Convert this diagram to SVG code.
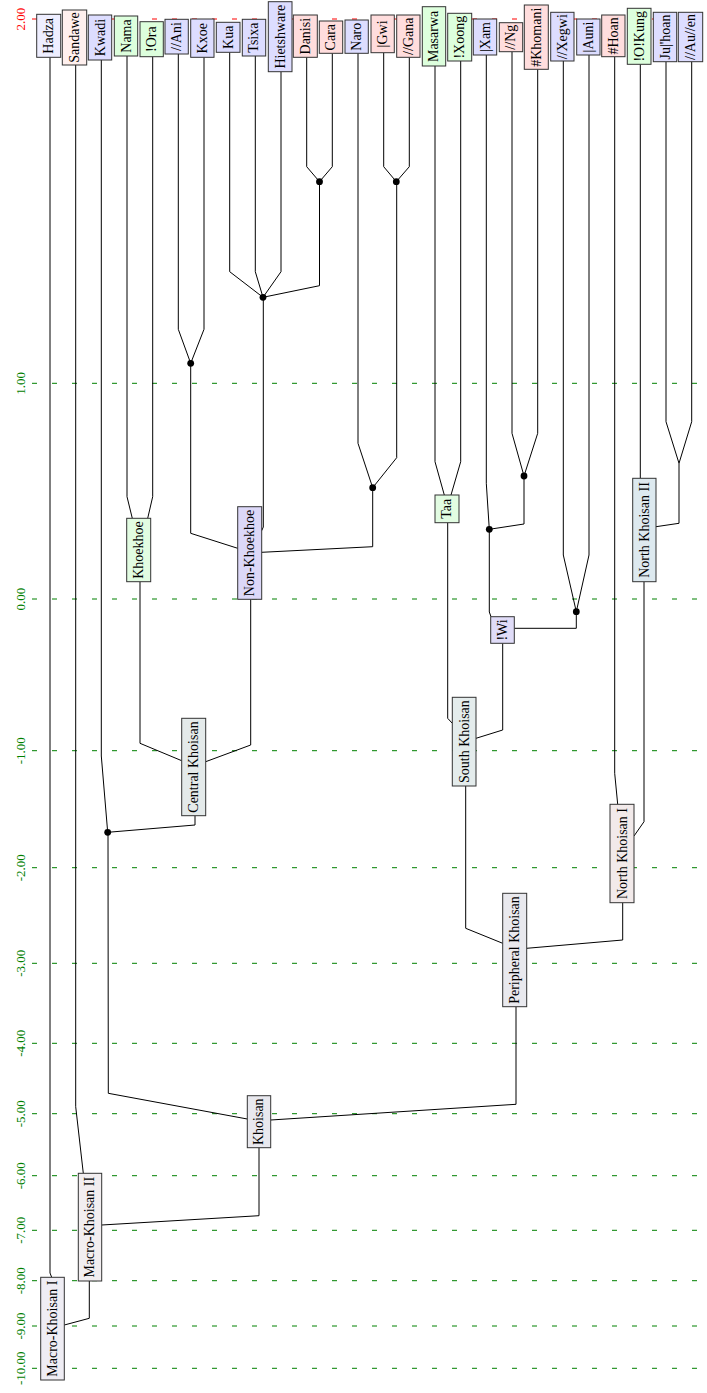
<svg xmlns="http://www.w3.org/2000/svg" width="707" height="1393" viewBox="0 0 707 1393">
<style>
.grid{stroke:#008000;stroke-width:1;stroke-dasharray:5 15;fill:none}
.gridr{stroke:#ff0000;stroke-width:1;stroke-dasharray:5 15;fill:none}
.ax{font-family:"Liberation Serif",serif;font-size:13px;fill:#008000;text-anchor:middle;dominant-baseline:central}
.axr{font-family:"Liberation Serif",serif;font-size:13px;fill:#ff0000;text-anchor:middle;dominant-baseline:central}
.c{stroke:#000;stroke-width:1;fill:none}
.dot{fill:#000}
.n rect{stroke:#333;stroke-width:1}
.t{font-family:"Liberation Serif",serif;font-size:14px;fill:#000;text-anchor:middle;dominant-baseline:central}
.L{fill:#ddddff}.G{fill:#ddffdd}.P{fill:#ffdddd}
</style>
<g id="grid">
<line class="gridr" x1="32" y1="19" x2="707" y2="19"/><text class="axr" x="20.5" y="19" transform="rotate(-90 20.5 19)">2.00</text>
<line class="grid" x1="32" y1="383.3" x2="707" y2="383.3"/><text class="ax" x="20.5" y="383.3" transform="rotate(-90 20.5 383.3)">1.00</text>
<line class="grid" x1="32" y1="599" x2="707" y2="599"/><text class="ax" x="20.5" y="599" transform="rotate(-90 20.5 599)">0.00</text>
<line class="grid" x1="32" y1="750.7" x2="707" y2="750.7"/><text class="ax" x="20.5" y="750.7" transform="rotate(-90 20.5 750.7)">-1.00</text>
<line class="grid" x1="32" y1="867.7" x2="707" y2="867.7"/><text class="ax" x="20.5" y="867.7" transform="rotate(-90 20.5 867.7)">-2.00</text>
<line class="grid" x1="32" y1="963.3" x2="707" y2="963.3"/><text class="ax" x="20.5" y="963.3" transform="rotate(-90 20.5 963.3)">-3.00</text>
<line class="grid" x1="32" y1="1043.3" x2="707" y2="1043.3"/><text class="ax" x="20.5" y="1043.3" transform="rotate(-90 20.5 1043.3)">-4.00</text>
<line class="grid" x1="32" y1="1113.7" x2="707" y2="1113.7"/><text class="ax" x="20.5" y="1113.7" transform="rotate(-90 20.5 1113.7)">-5.00</text>
<line class="grid" x1="32" y1="1175.7" x2="707" y2="1175.7"/><text class="ax" x="20.5" y="1175.7" transform="rotate(-90 20.5 1175.7)">-6.00</text>
<line class="grid" x1="32" y1="1230.3" x2="707" y2="1230.3"/><text class="ax" x="20.5" y="1230.3" transform="rotate(-90 20.5 1230.3)">-7.00</text>
<line class="grid" x1="32" y1="1280.7" x2="707" y2="1280.7"/><text class="ax" x="20.5" y="1280.7" transform="rotate(-90 20.5 1280.7)">-8.00</text>
<line class="grid" x1="32" y1="1326" x2="707" y2="1326"/><text class="ax" x="20.5" y="1326" transform="rotate(-90 20.5 1326)">-9.00</text>
<line class="grid" x1="32" y1="1368.3" x2="707" y2="1368.3"/><text class="ax" x="20.5" y="1368.3" transform="rotate(-90 20.5 1368.3)">-10.00</text>
</g>
<g id="connectors">
<polyline class="c" points="50,57.3 50,1273 51.7,1277.3"/>
<polyline class="c" points="75.7,65 75.7,1106.7 83.3,1173.3"/>
<polyline class="c" points="101.3,60 101.3,756 107.7,832.3"/>
<polyline class="c" points="127,56 127,496.7 132.3,518.3"/>
<polyline class="c" points="152.7,56.7 152.7,496.7 147.7,518.3"/>
<polyline class="c" points="178.3,54 178.3,329.3 190.7,363.3"/>
<polyline class="c" points="204,57.3 204,329.3 190.7,363.3"/>
<polyline class="c" points="229.7,52.3 229.7,271.7 263,297.3"/>
<polyline class="c" points="255.3,56 255.3,271.7 263,297.3"/>
<polyline class="c" points="281,71.7 281,271.7 263,297.3"/>
<polyline class="c" points="306.7,57.3 306.7,166.7 319.5,181.7"/>
<polyline class="c" points="332.3,53.3 332.3,166.7 319.5,181.7"/>
<polyline class="c" points="319.5,181.7 319.5,285.7 263,297.3"/>
<polyline class="c" points="263.3,297.3 263.3,527 261.7,530.7"/>
<polyline class="c" points="190.7,363.3 190.7,533.3 237.7,548.3"/>
<polyline class="c" points="358,53.3 358,443.3 372.7,487.7"/>
<polyline class="c" points="383.7,52.7 383.7,166.7 396.3,181.7"/>
<polyline class="c" points="409.3,57.3 409.3,166.7 396.3,181.7"/>
<polyline class="c" points="396.7,181.7 396.7,457.7 372.7,487.7"/>
<polyline class="c" points="372.7,487.7 372.7,546.7 261.7,552.3"/>
<polyline class="c" points="140,581.7 140,743.3 181.7,760.7"/>
<polyline class="c" points="250.7,599.3 250.7,745 205.7,761.7"/>
<polyline class="c" points="195,815.7 195,825 107.7,832.3"/>
<polyline class="c" points="108,832.3 108.3,1093.3 247.3,1119"/>
<polyline class="c" points="435,66 435,461.7 444.3,495"/>
<polyline class="c" points="460.7,61 460.7,461.7 451,495"/>
<polyline class="c" points="486.3,55 486.3,483.3 489.3,529.3"/>
<polyline class="c" points="512,51.7 512,433.3 524,476"/>
<polyline class="c" points="537.7,69.3 537.7,433.3 524,476"/>
<polyline class="c" points="524,476 524,524 489.3,529.3"/>
<polyline class="c" points="489.3,529.3 489.3,612 491,616.7"/>
<polyline class="c" points="563.3,61 563.3,555 576.3,611.7"/>
<polyline class="c" points="589,55 589,555 576.3,611.7"/>
<polyline class="c" points="576.3,611.7 576.3,628.3 514.3,628.3"/>
<polyline class="c" points="447.7,522.7 447.7,718.3 452.3,723.3"/>
<polyline class="c" points="502.7,643.3 502.7,730 476,738.3"/>
<polyline class="c" points="614.7,56.7 614.7,773.3 617.7,804.3"/>
<polyline class="c" points="640.3,64.3 640.3,478.3"/>
<polyline class="c" points="666,61.7 666,421.7 679,463.3"/>
<polyline class="c" points="691.7,61.7 691.7,421.7 679,463.3"/>
<polyline class="c" points="679,463.3 679,523.3 656,526.7"/>
<polyline class="c" points="644,581.7 644,821.7 634,836"/>
<polyline class="c" points="465.7,786 465.7,928.3 502.7,943.3"/>
<polyline class="c" points="622.7,902.7 622.7,940 526.7,948.3"/>
<polyline class="c" points="516,1006.7 516,1104.3 270.7,1120"/>
<polyline class="c" points="259,1147.7 259,1215.7 101.7,1225"/>
<polyline class="c" points="89.3,1281 89.3,1318.3 64.3,1325"/>
<circle class="dot" cx="190.7" cy="363.3" r="3.4"/>
<circle class="dot" cx="263" cy="297.3" r="3.4"/>
<circle class="dot" cx="319.5" cy="181.7" r="3.4"/>
<circle class="dot" cx="396.3" cy="181.7" r="3.4"/>
<circle class="dot" cx="372.7" cy="487.7" r="3.4"/>
<circle class="dot" cx="107.7" cy="832.3" r="3.4"/>
<circle class="dot" cx="524" cy="476" r="3.4"/>
<circle class="dot" cx="489.3" cy="529.3" r="3.4"/>
<circle class="dot" cx="576.3" cy="611.7" r="3.4"/>
</g>
<g id="hadza" class="n"><rect x="36.7" y="14.3" width="24" height="43" fill="#eeeeff"/><text class="t" x="48.7" y="35.8" transform="rotate(-90 48.7 35.8)">Hadza</text></g>
<g id="sandawe" class="n"><rect x="62.3" y="10" width="24.4" height="55" fill="#fff0ee"/><text class="t" x="74.5" y="37.5" transform="rotate(-90 74.5 37.5)">Sandawe</text></g>
<g id="kwadi" class="n"><rect class="L" x="88.3" y="15" width="23.4" height="45"/><text class="t" x="100" y="37.5" transform="rotate(-90 100 37.5)">Kwadi</text></g>
<g id="nama" class="n"><rect class="G" x="114.3" y="16" width="23.4" height="40"/><text class="t" x="126" y="36" transform="rotate(-90 126 36)">Nama</text></g>
<g id="ora" class="n"><rect class="G" x="140" y="21.7" width="23.3" height="35"/><text class="t" x="151.6" y="39.2" transform="rotate(-90 151.6 39.2)">!Ora</text></g>
<g id="ani" class="n"><rect class="L" x="165" y="19.3" width="23.3" height="34.7"/><text class="t" x="176.6" y="36.6" transform="rotate(-90 176.6 36.6)">//Ani</text></g>
<g id="kxoe" class="n"><rect class="L" x="190.7" y="19" width="23.3" height="38.3"/><text class="t" x="202.3" y="38.2" transform="rotate(-90 202.3 38.2)">Kxoe</text></g>
<g id="kua" class="n"><rect class="L" x="216.3" y="22.3" width="23.7" height="30"/><text class="t" x="228.1" y="37.3" transform="rotate(-90 228.1 37.3)">Kua</text></g>
<g id="tsixa" class="n"><rect class="L" x="242.3" y="19.3" width="23.4" height="36.7"/><text class="t" x="254" y="37.6" transform="rotate(-90 254 37.6)">Tsixa</text></g>
<g id="hietshware" class="n"><rect class="L" x="268.3" y="1.7" width="23.7" height="70"/><text class="t" x="280.1" y="36.7" transform="rotate(-90 280.1 36.7)">Hietshware</text></g>
<g id="danisi" class="n"><rect class="P" x="293.3" y="15" width="24" height="42.3"/><text class="t" x="305.3" y="36.2" transform="rotate(-90 305.3 36.2)">Danisi</text></g>
<g id="cara" class="n"><rect class="P" x="319.3" y="21" width="23.4" height="32.3"/><text class="t" x="331" y="37.2" transform="rotate(-90 331 37.2)">Cara</text></g>
<g id="naro" class="n"><rect class="L" x="345" y="20" width="23.3" height="33.3"/><text class="t" x="356.6" y="36.7" transform="rotate(-90 356.6 36.7)">Naro</text></g>
<g id="gwi" class="n"><rect class="P" x="371" y="15" width="23.3" height="37.7"/><text class="t" x="382.6" y="33.9" transform="rotate(-90 382.6 33.9)">|Gwi</text></g>
<g id="gana" class="n"><rect class="P" x="396.7" y="15" width="23.3" height="42.3"/><text class="t" x="408.3" y="36.2" transform="rotate(-90 408.3 36.2)">//Gana</text></g>
<g id="masarwa" class="n"><rect class="G" x="422.3" y="6.7" width="23.4" height="59.3"/><text class="t" x="434" y="36.4" transform="rotate(-90 434 36.4)">Masarwa</text></g>
<g id="xoong" class="n"><rect class="G" x="447.7" y="13.3" width="24" height="47.7"/><text class="t" x="459.7" y="37.2" transform="rotate(-90 459.7 37.2)">!Xoong</text></g>
<g id="xam" class="n"><rect class="L" x="473.3" y="19" width="23.4" height="36"/><text class="t" x="485" y="37" transform="rotate(-90 485 37)">|Xam</text></g>
<g id="ng" class="n"><rect class="P" x="499.3" y="22.7" width="23.4" height="29"/><text class="t" x="511" y="37.2" transform="rotate(-90 511 37.2)">//Ng</text></g>
<g id="khomani" class="n"><rect class="P" x="524.3" y="5" width="24" height="64.3"/><text class="t" x="536.3" y="37.2" transform="rotate(-90 536.3 37.2)">#Khomani</text></g>
<g id="xegwi" class="n"><rect class="L" x="550.7" y="12.3" width="23.3" height="48.7"/><text class="t" x="562.3" y="36.7" transform="rotate(-90 562.3 36.7)">//Xegwi</text></g>
<g id="auni" class="n"><rect class="L" x="576.7" y="19" width="23.3" height="36"/><text class="t" x="588.3" y="37" transform="rotate(-90 588.3 37)">|Auni</text></g>
<g id="hoan" class="n"><rect class="P" x="601.7" y="15" width="23.3" height="41.7"/><text class="t" x="613.3" y="35.9" transform="rotate(-90 613.3 35.9)">#Hoan</text></g>
<g id="okung" class="n"><rect class="G" x="627.3" y="8.3" width="23.7" height="56"/><text class="t" x="639.1" y="36.3" transform="rotate(-90 639.1 36.3)">!O!Kung</text></g>
<g id="juhoan" class="n"><rect class="L" x="653.3" y="12.3" width="23.4" height="49.4"/><text class="t" x="665" y="37" transform="rotate(-90 665 37)">Ju|'hoan</text></g>
<g id="auen" class="n"><rect class="L" x="678.3" y="12.3" width="24.4" height="49.4"/><text class="t" x="690.5" y="37" transform="rotate(-90 690.5 37)">//Au//en</text></g>
<g id="khoekhoe" class="n"><rect x="126.7" y="518.3" width="24" height="63.4" fill="#e2fce2"/><text class="t" x="138.7" y="550" transform="rotate(-90 138.7 550)">Khoekhoe</text></g>
<g id="nonkhoekhoe" class="n"><rect x="237.7" y="506.7" width="24" height="92.6" fill="#dcd8f8"/><text class="t" x="249.7" y="553" transform="rotate(-90 249.7 553)">Non-Khoekhoe</text></g>
<g id="centralkhoisan" class="n"><rect x="181.7" y="718.3" width="24" height="97.4" fill="#e4eaea"/><text class="t" x="193.7" y="767" transform="rotate(-90 193.7 767)">Central Khoisan</text></g>
<g id="taa" class="n"><rect x="435" y="495" width="24" height="27.7" fill="#e2fce2"/><text class="t" x="447" y="508.8" transform="rotate(-90 447 508.8)">Taa</text></g>
<g id="wi" class="n"><rect x="490.7" y="616.7" width="23.6" height="26.6" fill="#e0dcf8"/><text class="t" x="502.5" y="630" transform="rotate(-90 502.5 630)">!Wi</text></g>
<g id="southkhoisan" class="n"><rect x="452.3" y="697.3" width="23.7" height="88.7" fill="#e4ecec"/><text class="t" x="464.1" y="741.6" transform="rotate(-90 464.1 741.6)">South Khoisan</text></g>
<g id="northkhoisan2" class="n"><rect x="632.7" y="478.3" width="23.3" height="103.4" fill="#dde9ef"/><text class="t" x="644.3" y="530" transform="rotate(-90 644.3 530)">North Khoisan II</text></g>
<g id="northkhoisan1" class="n"><rect x="610" y="804.3" width="24" height="98.4" fill="#f2eaea"/><text class="t" x="622" y="853.5" transform="rotate(-90 622 853.5)">North Khoisan I</text></g>
<g id="peripheralkhoisan" class="n"><rect x="502.7" y="893.3" width="24" height="113.4" fill="#e9e9ee"/><text class="t" x="514.7" y="950" transform="rotate(-90 514.7 950)">Peripheral Khoisan</text></g>
<g id="khoisan" class="n"><rect x="247.3" y="1095.7" width="23.4" height="52" fill="#e8e8ee"/><text class="t" x="259" y="1121.7" transform="rotate(-90 259 1121.7)">Khoisan</text></g>
<g id="macrokhoisan2" class="n"><rect x="78.3" y="1173.3" width="23.4" height="107.7" fill="#f2eef0"/><text class="t" x="90" y="1227.2" transform="rotate(-90 90 1227.2)">Macro-Khoisan II</text></g>
<g id="macrokhoisan1" class="n"><rect x="40.7" y="1277.3" width="23.6" height="102.7" fill="#efedf4"/><text class="t" x="52.5" y="1328.7" transform="rotate(-90 52.5 1328.7)">Macro-Khoisan I</text></g>
</svg>
